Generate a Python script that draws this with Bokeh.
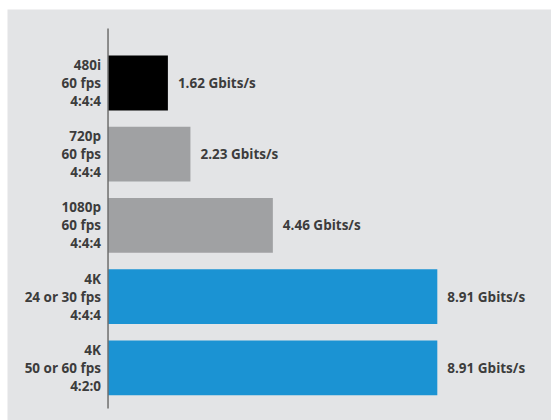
from bokeh.plotting import figure
from bokeh.models import Range1d, ColumnDataSource
from bokeh.core.properties import value
from bokeh.embed import file_html
from bokeh.resources import INLINE

# ---- data ----
categories = ["480i\n60 fps\n4:4:4",
              "720p\n60 fps\n4:4:4",
              "1080p\n60 fps\n4:4:4",
              "4K\n24 or 30 fps\n4:4:4",
              "4K\n50 or 60 fps\n4:2:0"]
rates = [1.62, 2.23, 4.46, 8.91, 8.91]          # Gbits/s
rate_labels = ["1.62 Gbits/s", "2.23 Gbits/s", "4.46 Gbits/s",
               "8.91 Gbits/s", "8.91 Gbits/s"]
bar_colors = ["#000000", "#a0a1a3", "#a0a1a3", "#1b93d3", "#1b93d3"]

idx = list(range(len(categories)))
src = ColumnDataSource(dict(y=idx, v=rates, lab=rate_labels, cat=categories,
                            c=bar_colors, zero=[0] * len(idx)))

PANEL = "#e3e4e6"
TXT = "#3c3c3c"
FONT = value("Open Sans")

p = figure(width=551, height=420, output_backend="svg", toolbar_location=None,
           x_range=Range1d(-2.72, 12.0), y_range=Range1d(4.74, -1.032),
           min_border_left=7, min_border_top=9, min_border_right=0,
           min_border_bottom=0)
p.background_fill_color = PANEL
p.border_fill_color = "white"
p.outline_line_color = None
p.xaxis.visible = False
p.yaxis.visible = False
p.xgrid.grid_line_color = None
p.ygrid.grid_line_color = None

p.hbar(y="y", left=0, right="v", height=0.77, fill_color="c",
       line_color=None, source=src)

# axis line
p.segment(x0=[0], y0=[-0.765], x1=[0], y1=[4.57], line_color="#6e6e6e",
          line_width=1.5)

# category labels
p.text(x="zero", y="y", text="cat", source=src, x_offset=-7,
       text_align="right", text_baseline="middle", text_font=FONT,
       text_font_style="bold", text_font_size="13.5px", text_color=TXT,
       text_line_height=1.0)

# value labels
p.text(x="v", y="y", text="lab", source=src, x_offset=10,
       text_align="left", text_baseline="middle", text_font=FONT,
       text_font_style="bold", text_font_size="13.5px", text_color=TXT)

open("out.html", "w").write(file_html(p, INLINE))
